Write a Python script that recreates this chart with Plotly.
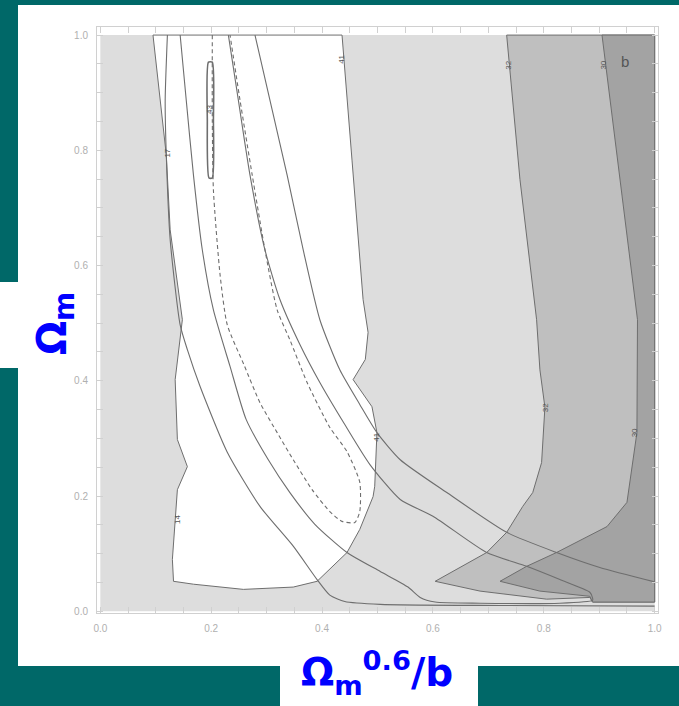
import plotly.graph_objects as go

# ---------------- data (data units) ----------------
BASE_X = [0.0, 1.0, 1.0, 0.0]
BASE_Y = [0.0, 0.0, 1.0, 1.0]

WHITE_X = [0.095, 0.436, 0.454, 0.474, 0.483, 0.478, 0.456, 0.490, 0.499, 0.495, 0.492,
           0.468, 0.445, 0.391, 0.348, 0.258, 0.168, 0.132, 0.130, 0.139, 0.157, 0.139,
           0.135, 0.148, 0.126, 0.119]
WHITE_Y = [1.000, 1.000, 0.783, 0.541, 0.484, 0.437, 0.402, 0.355, 0.310, 0.217, 0.199,
           0.142, 0.102, 0.052, 0.042, 0.038, 0.047, 0.052, 0.090, 0.211, 0.251, 0.298,
           0.402, 0.506, 0.662, 0.792]

MID_X = [0.733, 1.0, 1.0, 0.888, 0.883, 0.805, 0.685, 0.604, 0.697, 0.733, 0.762, 0.780,
         0.796, 0.802, 0.793, 0.787, 0.757]
MID_Y = [1.0, 1.0, 0.016, 0.016, 0.024, 0.021, 0.035, 0.052, 0.102, 0.137, 0.182, 0.206,
         0.258, 0.354, 0.419, 0.506, 0.749]

DARK_X = [0.905, 1.0, 1.0, 0.888, 0.883, 0.793, 0.721, 0.769, 0.823, 0.914, 0.950, 0.968,
          0.969, 0.937]
DARK_Y = [1.0, 1.0, 0.016, 0.016, 0.026, 0.035, 0.052, 0.078, 0.102, 0.147, 0.189, 0.310,
          0.506, 0.749]

# outer solid contour: left branch then right branch
OUT_L_X = [0.121, 0.117, 0.119, 0.126, 0.144, 0.157, 0.180, 0.229, 0.288, 0.348, 0.391,
           0.414, 0.441, 0.505, 0.721, 1.000]
OUT_L_Y = [1.000, 0.887, 0.792, 0.645, 0.497, 0.454, 0.390, 0.276, 0.182, 0.113, 0.055,
           0.028, 0.017, 0.012, 0.010, 0.009]
OUT_R_X = [0.279, 0.310, 0.337, 0.366, 0.396, 0.432, 0.468, 0.499, 0.541, 0.625, 0.733,
           0.823, 0.901, 1.000]
OUT_R_Y = [1.000, 0.870, 0.757, 0.627, 0.506, 0.419, 0.359, 0.310, 0.263, 0.206, 0.137,
           0.102, 0.076, 0.051]

# inner solid contour (closed near bottom right)
IN_X = [0.144, 0.155, 0.168, 0.184, 0.204, 0.234, 0.263, 0.303, 0.342, 0.387, 0.445,
        0.505, 0.555, 0.577, 0.604, 0.685, 0.829, 0.888,
        0.888, 0.883, 0.829, 0.769, 0.697, 0.600, 0.541, 0.486, 0.441, 0.396, 0.360,
        0.324, 0.297, 0.270, 0.249, 0.231]
IN_Y = [1.000, 0.887, 0.757, 0.627, 0.523, 0.425, 0.333, 0.263, 0.206, 0.151, 0.102,
        0.069, 0.042, 0.024, 0.016, 0.014, 0.014, 0.019,
        0.023, 0.033, 0.055, 0.078, 0.102, 0.165, 0.194, 0.255, 0.324, 0.397, 0.463,
        0.541, 0.627, 0.757, 0.887, 1.000]

# dashed contour
DASH_X = [0.202, 0.202, 0.204, 0.216, 0.229, 0.259, 0.288, 0.319, 0.348, 0.382, 0.414,
          0.436, 0.459, 0.468, 0.468, 0.445, 0.414, 0.373, 0.342, 0.319, 0.297, 0.274,
          0.252, 0.234]
DASH_Y = [1.000, 0.853, 0.731, 0.584, 0.497, 0.428, 0.362, 0.310, 0.263, 0.211, 0.173,
          0.156, 0.154, 0.173, 0.224, 0.277, 0.319, 0.397, 0.471, 0.523, 0.627, 0.757,
          0.887, 1.000]

# small peak contour
PEAK_X = [0.195, 0.202, 0.204, 0.202, 0.196, 0.193, 0.195]
PEAK_Y = [0.953, 0.953, 0.852, 0.752, 0.752, 0.852, 0.953]

# contour labels
LAB_TEXT = ["41", "32", "30", "32", "30", "41", "17", "14", "43"]
LAB_X = [0.436, 0.735, 0.906, 0.802, 0.964, 0.499, 0.121, 0.139, 0.198]
LAB_Y = [0.957, 0.948, 0.948, 0.354, 0.310, 0.303, 0.795, 0.159, 0.870]

X_TICKS = [0.0, 0.2, 0.4, 0.6, 0.8, 1.0]
Y_TICKS = [0.0, 0.2, 0.4, 0.6, 0.8, 1.0]
X_RANGE = [-0.006, 1.006]
Y_RANGE = [-0.003, 1.014]

# ---------------- styling ----------------
TEAL = "#006868"
LINE = "#6e6e6e"
C_LIGHT = "#dddddd"
C_WHITE = "#ffffff"
C_MID = "#bfbfbf"
C_DARK = "#a3a3a3"

fig = go.Figure()


def region(xs, ys, color):
    fig.add_trace(go.Scatter(x=xs + xs[:1], y=ys + ys[:1], mode="lines", fill="toself",
                             fillcolor=color, line=dict(color=LINE, width=1),
                             hoverinfo="skip", showlegend=False))


fig.add_trace(go.Scatter(x=BASE_X + BASE_X[:1], y=BASE_Y + BASE_Y[:1], mode="lines",
                         fill="toself", fillcolor=C_LIGHT, line=dict(width=0),
                         hoverinfo="skip", showlegend=False))
region(WHITE_X, WHITE_Y, C_WHITE)
region(MID_X, MID_Y, C_MID)
region(DARK_X, DARK_Y, C_DARK)


def curve(xs, ys, dash="solid", width=1.1):
    fig.add_trace(go.Scatter(x=xs, y=ys, mode="lines",
                             line=dict(color=LINE, width=width, dash=dash,
                                       shape="spline", smoothing=0.6),
                             hoverinfo="skip", showlegend=False))


curve(OUT_L_X, OUT_L_Y)
curve(OUT_R_X, OUT_R_Y)
curve(IN_X, IN_Y)
curve(DASH_X, DASH_Y, dash="4px,3px")
curve(PEAK_X, PEAK_Y, width=1.6)

for t, x, y in zip(LAB_TEXT, LAB_X, LAB_Y):
    fig.add_annotation(x=x, y=y, text=t, showarrow=False, textangle=-90,
                       font=dict(size=8, color="#555555", family="Liberation Sans"))

fig.add_annotation(x=0.946, y=0.955, text="b", showarrow=False,
                   font=dict(size=15, color="#555555", family="Liberation Sans"))

# ---------------- page layout ----------------
W, H = 679, 706
L, R, T, B = 97, 658, 27, 613


def px(xp):
    return (xp - L) / (R - L)


def py(yp):
    return (B - yp) / (B - T)


shapes = [
    dict(type="rect", xref="paper", yref="paper", x0=px(18), x1=px(679), y0=py(666), y1=py(5),
         fillcolor="white", line=dict(width=0), layer="below"),
    dict(type="rect", xref="paper", yref="paper", x0=px(0), x1=px(19), y0=py(368), y1=py(282),
         fillcolor="white", line=dict(width=0), layer="below"),
    dict(type="rect", xref="paper", yref="paper", x0=px(280), x1=px(478), y0=py(706), y1=py(665),
         fillcolor="white", line=dict(width=0), layer="below"),
]

fig.add_annotation(xref="paper", yref="paper", x=px(27), y=py(324),
                   text="<b>Ω<sub>m</sub></b>", showarrow=False, textangle=-90,
                   font=dict(size=40, color="#0000ff", family="DejaVu Sans"))
fig.add_annotation(xref="paper", yref="paper", x=px(377), y=py(703),
                   text="<b>Ω<sub>m</sub><sup>0.6</sup>/b</b>", showarrow=False,
                   font=dict(size=39, color="#0000ff", family="DejaVu Sans"))

axis_common = dict(showline=True, linecolor="#d0d0d0", linewidth=1, mirror="ticks",
                   ticks="inside", ticklen=6, tickcolor="#d0d0d0", tickwidth=1,
                   showgrid=False, zeroline=False, tickformat=".1f",
                   tickfont=dict(size=10, color="#b0b0b0", family="Liberation Sans"),
                   minor=dict(dtick=0.05, ticks="inside", ticklen=6, tickcolor="#d0d0d0",
                              showgrid=False))

fig.update_layout(
    width=W, height=H,
    margin=dict(l=L, r=W - R, t=T, b=H - B, pad=0),
    paper_bgcolor=TEAL, plot_bgcolor="white",
    shapes=shapes,
    xaxis=dict(range=X_RANGE, tickvals=X_TICKS, ticklabelstandoff=6, **axis_common),
    yaxis=dict(range=Y_RANGE, tickvals=Y_TICKS, ticklabelstandoff=6, **axis_common),
    showlegend=False,
)

fig.write_html("out.html", config={"displayModeBar": False},
               post_script="document.body.style.margin='0';document.body.style.overflow='hidden';")
